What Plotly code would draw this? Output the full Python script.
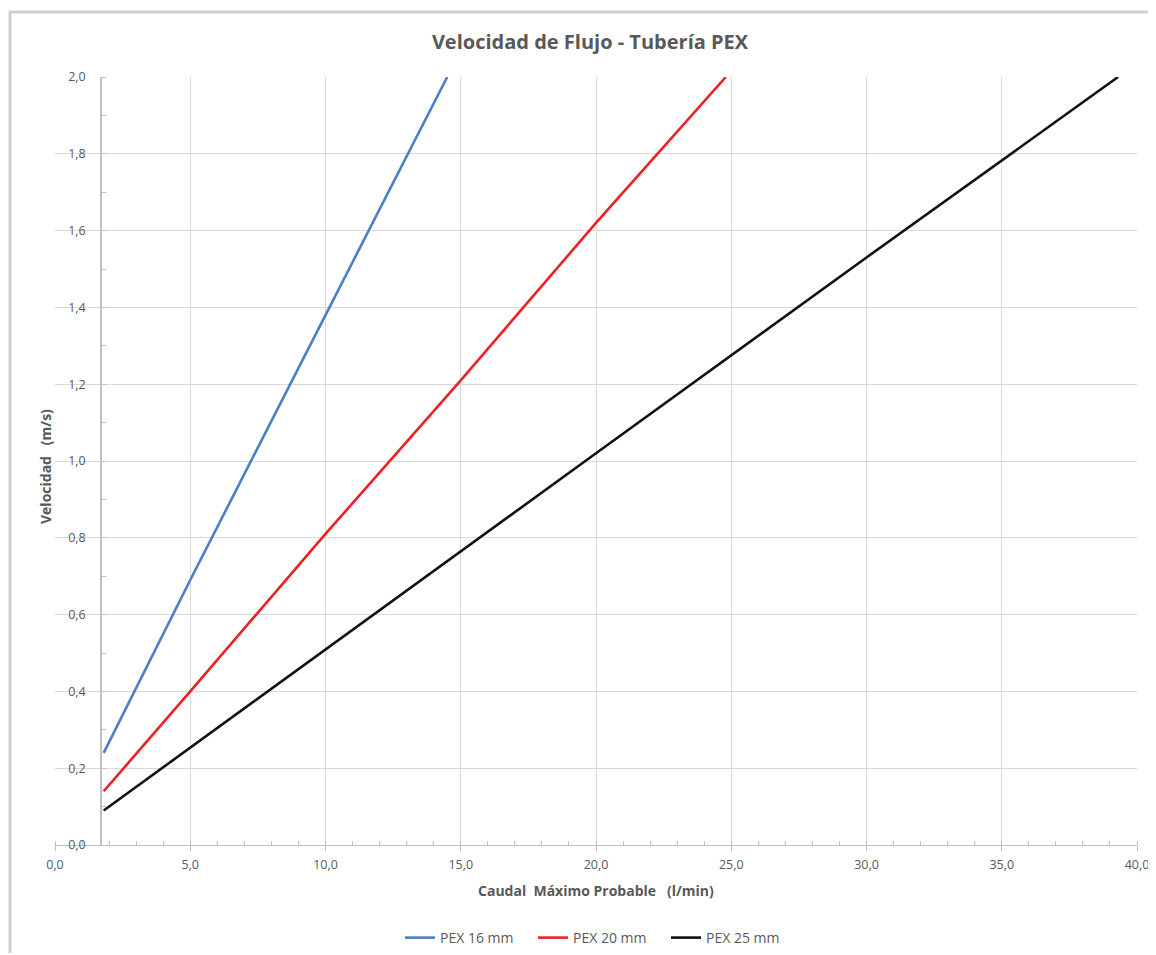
import plotly.graph_objects as go

# Caudal (l/min) and velocidad (m/s)
q_16 = [1.8, 5.0, 10.0, 14.5]
v_16 = [0.24, 0.69, 1.38, 2.0]
q_20 = [1.8, 5.0, 10.0, 15.0, 20.0, 24.8]
v_20 = [0.14, 0.40, 0.81, 1.21, 1.62, 2.0]
q_25 = [1.8, 10.0, 20.0, 30.0, 39.3]
v_25 = [0.09, 0.51, 1.02, 1.53, 2.0]

names = ["PEX 16 mm", "PEX 20 mm", "PEX 25 mm"]
colors = ["#4a7fc9", "#ee2020", "#111111"]

x_ticks = [0, 5, 10, 15, 20, 25, 30, 35, 40]
x_labels = ["0,0", "5,0", "10,0", "15,0", "20,0", "25,0", "30,0", "35,0", "40,0"]
y_ticks = [0, 0.2, 0.4, 0.6, 0.8, 1.0, 1.2, 1.4, 1.6, 1.8, 2.0]
y_labels = ["0,0", "0,2", "0,4", "0,6", "0,8", "1,0", "1,2", "1,4", "1,6", "1,8", "2,0"]

font_fam = "Open Sans, Noto Sans, sans-serif"
gray = "#595959"

fig = go.Figure()
for q, v, n, c in zip([q_16, q_20, q_25], [v_16, v_20, v_25], names, colors):
    fig.add_trace(go.Scatter(x=q, y=v, mode="lines", name=n,
                             line=dict(color=c, width=2.6)))

OFF = 8  # page offset of the figure in the screenshot
W, H = 1148, 945
# target pixel positions in the screenshot
L_px, R_px, T_px, B_px = 55, 1137, 77, 845
ml = L_px - OFF
mt = T_px - OFF
mr = W - (R_px - OFF)
mb = H - (B_px - OFF)
pw = W - ml - mr
ph = H - mt - mb


def px_x(p):
    return (p - L_px) / pw


def px_y(p):
    return (B_px - p) / ph


y_axis_x = 1.7

fig.update_layout(
    width=W, height=H,
    margin=dict(l=ml, r=mr, t=mt, b=mb, autoexpand=False),
    paper_bgcolor="white", plot_bgcolor="white",
    font=dict(family=font_fam, color=gray, size=12),
    title=dict(text="<b>Velocidad de Flujo - Tubería PEX</b>",
               x=px_x(590), xref="paper", xanchor="center",
               y=1 - (42 - OFF) / H, yanchor="middle", yref="container",
               font=dict(size=20, color=gray, family=font_fam)),
    xaxis=dict(range=[0, 40], tickvals=x_ticks, ticktext=x_labels,
               showgrid=True, gridcolor="#d9d9d9", gridwidth=1,
               showline=True, linecolor="#bfbfbf", linewidth=1,
               ticks="outside", ticklen=5, tickcolor="#bfbfbf",
               zeroline=False, ticklabelstandoff=3, automargin=False,
               minor=dict(dtick=1, ticks="inside", ticklen=4, tickcolor="#bfbfbf", showgrid=False),
               tickfont=dict(size=12.5, color=gray)),
    yaxis=dict(range=[0, 2.0], tickvals=y_ticks, ticktext=y_labels,
               anchor="free", position=y_axis_x / 40,
               showgrid=True, gridcolor="#d9d9d9", gridwidth=1,
               showline=True, linecolor="#bfbfbf", linewidth=1.5,
               ticks="", zeroline=False, ticklabelstandoff=12, automargin=False,
               minor=dict(dtick=0.1, ticks="inside", ticklen=4, tickcolor="#bfbfbf", showgrid=False),
               tickfont=dict(size=12.5, color=gray)),
    showlegend=True,
    legend=dict(orientation="h", x=px_x(400), xanchor="left",
                y=px_y(938), yanchor="middle", entrywidth=88,
                font=dict(size=14, color=gray)),
    annotations=[
        dict(text="<b>Caudal  Máximo Probable   (l/min)</b>", xref="paper", yref="paper",
             x=px_x(596), y=px_y(890), xanchor="center", yanchor="middle",
             showarrow=False, font=dict(size=14, color=gray)),
        dict(text="<b>Velocidad   (m/s)</b>", xref="paper", yref="paper",
             x=px_x(45), y=px_y(467), xanchor="center", yanchor="middle",
             textangle=-90, showarrow=False, font=dict(size=14, color=gray)),
    ],
)

# outer chart border (top and left edges visible)
fig.add_shape(type="rect", xref="paper", yref="paper",
              x0=px_x(10), x1=px_x(1175), y0=px_y(975), y1=px_y(12),
              line=dict(color="#d0d0d0", width=3), fillcolor="rgba(0,0,0,0)",
              layer="below")

fig.write_html("out.html")
